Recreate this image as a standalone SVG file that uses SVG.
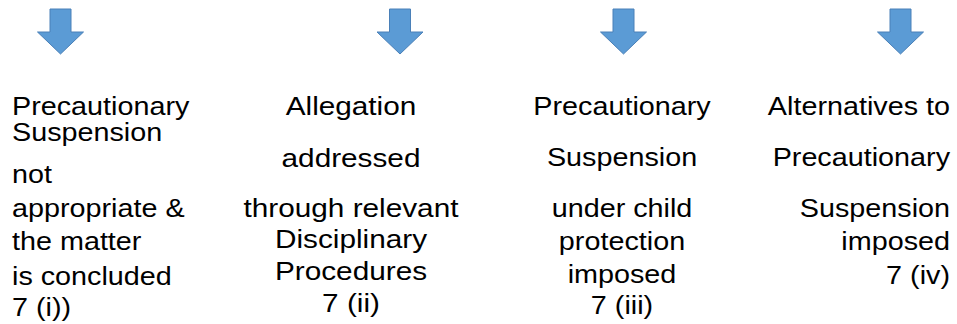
<svg xmlns="http://www.w3.org/2000/svg" xmlns:xlink="http://www.w3.org/1999/xlink" width="957" height="324" viewBox="0 0 957 324">
<style>
  .t { font-family: "Liberation Sans", Arial, sans-serif; font-size: 25px; fill: #000; }
  .arrow { fill: #5B9BD5; stroke: #4A80B8; stroke-width: 1; stroke-linejoin: miter; }
</style>
<defs>
  <path id="down" d="M -10.5 9 L 10.5 9 L 10.5 32 L 23 32 L 0 54 L -23 32 L -10.5 32 Z"/>
</defs>
<rect width="957" height="324" fill="#fff"/>
<g id="connectors" class="arrow">
  <use xlink:href="#down" href="#down" transform="translate(60.5,0)"/>
  <use xlink:href="#down" href="#down" transform="translate(400,0)"/>
  <use xlink:href="#down" href="#down" transform="translate(623.5,0)"/>
  <use xlink:href="#down" href="#down" transform="translate(900.5,0)"/>
</g>
<g id="node-i" transform="translate(12,0) scale(1.15,1)">
  <text class="t" x="0" y="115">Precautionary</text>
  <text class="t" x="0" y="141">Suspension</text>
  <text class="t" x="0" y="183">not</text>
  <text class="t" x="0" y="217">appropriate &amp;</text>
  <text class="t" x="0" y="250.5">the matter</text>
  <text class="t" x="0" y="285">is concluded</text>
  <text class="t" x="0" y="316.5">7 (i))</text>
</g>
<g id="node-ii" transform="translate(351,0) scale(1.19,1)" text-anchor="middle">
  <text class="t" x="0" y="115">Allegation</text>
  <text class="t" x="0" y="167">addressed</text>
  <text class="t" x="0" y="217">through relevant</text>
  <text class="t" x="0" y="248.5">Disciplinary</text>
  <text class="t" x="0" y="280">Procedures</text>
  <text class="t" x="0" y="312">7 (ii)</text>
</g>
<g id="node-iii" transform="translate(622,0) scale(1.15,1)" text-anchor="middle">
  <text class="t" x="0" y="115">Precautionary</text>
  <text class="t" x="0" y="166">Suspension</text>
  <text class="t" x="0" y="217">under child</text>
  <text class="t" x="0" y="250">protection</text>
  <text class="t" x="0" y="283">imposed</text>
  <text class="t" x="0" y="314">7 (iii)</text>
</g>
<g id="node-iv" transform="translate(950,0) scale(1.15,1)" text-anchor="end">
  <text class="t" x="0" y="115">Alternatives to</text>
  <text class="t" x="0" y="166">Precautionary</text>
  <text class="t" x="0" y="217">Suspension</text>
  <text class="t" x="0" y="250">imposed</text>
  <text class="t" x="0" y="284">7 (iv)</text>
</g>
</svg>
